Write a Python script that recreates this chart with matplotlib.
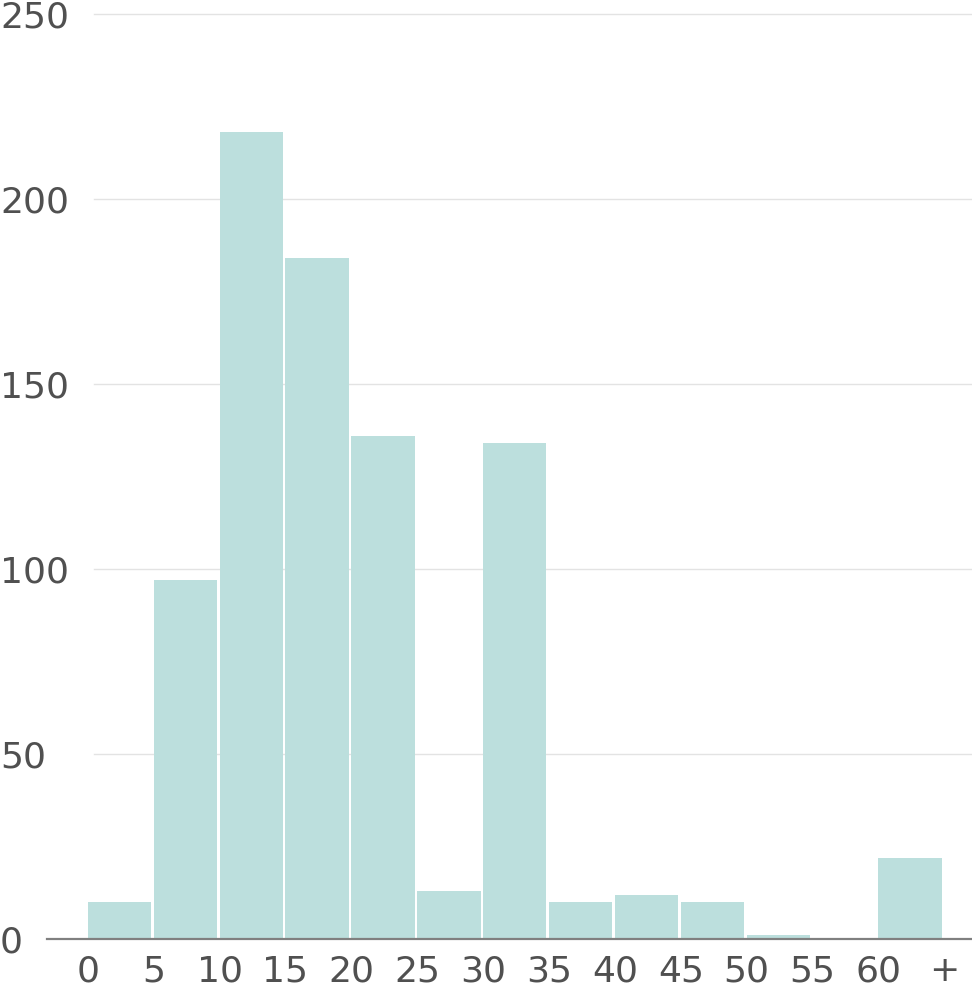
import matplotlib
matplotlib.use('Agg')
import matplotlib.pyplot as plt

bin_edges = [0, 5, 10, 15, 20, 25, 30, 35, 40, 45, 50, 55, 60]
counts = [10, 97, 218, 184, 136, 13, 134, 10, 12, 10, 1, 0, 22]
tick_positions = [0, 5, 10, 15, 20, 25, 30, 35, 40, 45, 50, 55, 60, 65]
tick_labels = ['0', '5', '10', '15', '20', '25', '30', '35', '40', '45', '50', '55', '60', '+']
y_ticks = [0, 50, 100, 150, 200, 250]

text_color = '#505050'
plt.rcParams['font.family'] = ['DejaVu Sans']

fig = plt.figure(figsize=(9.72, 9.92), dpi=100)
ax = fig.add_axes([47 / 972, 53 / 992, 1 - 47 / 972, (939 - 14) / 992])

ax.bar(bin_edges, counts, width=4.8, align='edge', color='#bcdfdd', zorder=2)

ax.set_xlim(-3.1, 67.1)
ax.set_ylim(0, 250)

# gridlines start slightly right of the axes edge
for y in y_ticks[1:]:
    ax.plot([0.46, 67.1], [y, y], color='#e3e3e3', lw=1, zorder=1, clip_on=False)

for s in ['top', 'right', 'left']:
    ax.spines[s].set_visible(False)
ax.spines['bottom'].set_color('#808080')
ax.spines['bottom'].set_linewidth(1.6)
ax.spines['bottom'].set_zorder(3)

ax.set_xticks(tick_positions)
ax.set_xticklabels(tick_labels)
ax.set_yticks(y_ticks)
ax.set_yticklabels([str(v) for v in y_ticks])
ax.tick_params(axis='both', length=0, labelsize=26, labelcolor=text_color)
ax.tick_params(axis='x', pad=11)
ax.tick_params(axis='y', pad=33.8)
for lbl in ax.get_yticklabels():
    lbl.set_horizontalalignment('left')

fig.savefig('out.png', dpi=100)
